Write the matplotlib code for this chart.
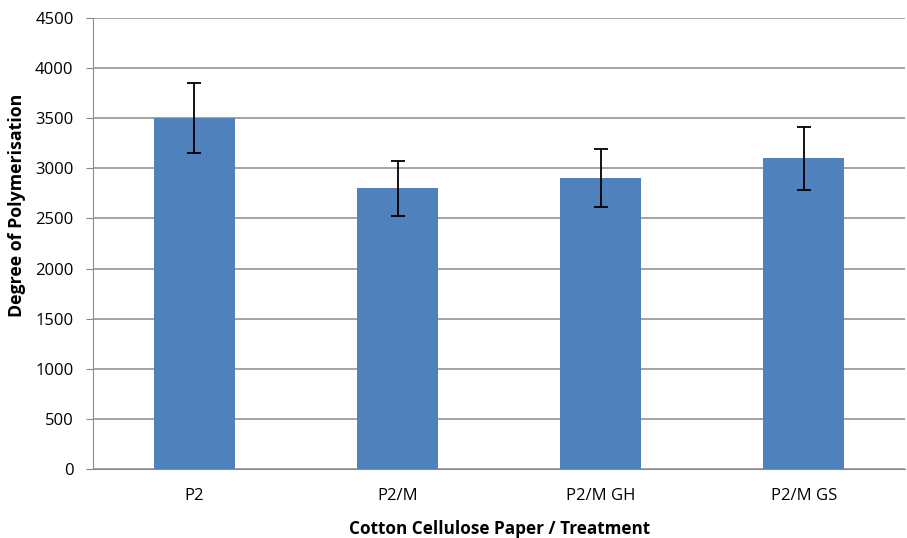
import matplotlib.pyplot as plt
import numpy as np

plt.rcParams['font.family'] = ['Open Sans', 'DejaVu Sans']

# data
categories = ['P2', 'P2/M', 'P2/M GH', 'P2/M GS']
dp_values = [3500, 2800, 2900, 3100]
dp_errors = [350, 275, 290, 315]
y_ticks = list(range(0, 4501, 500))

fig = plt.figure(figsize=(9.07, 5.38), dpi=100)
ax = fig.add_axes([0.1025, 0.1283, 0.8955, 0.8382])

x = np.arange(len(categories))
ax.bar(x, dp_values, width=0.4, color='#4F81BD', zorder=2)
ax.errorbar(x, dp_values, yerr=dp_errors, fmt='none', ecolor='black',
            elinewidth=1.3, capsize=5, capthick=1.3, zorder=3)

ax.set_xlim(-0.5, len(categories) - 0.5)
ax.set_ylim(0, 4500)
ax.set_yticks(y_ticks)
ax.set_xticks(x)
ax.set_xticklabels(categories)
ax.tick_params(axis='x', length=0, pad=14, labelsize=12)
ax.tick_params(axis='y', length=5, color='#888888', labelsize=12, pad=9)

ax.grid(axis='y', color='#8c8c8c', linewidth=1.1, zorder=0)
ax.set_axisbelow(True)
for side in ['top', 'right']:
    ax.spines[side].set_visible(False)
ax.spines['left'].set_color('#8c8c8c')
ax.spines['bottom'].set_color('#8c8c8c')

ax.set_xlabel('Cotton Cellulose Paper / Treatment', fontsize=12.3, fontweight='bold', labelpad=11)
ax.set_ylabel('Degree of Polymerisation', fontsize=12.8, fontweight='bold')
ax.yaxis.set_label_coords(-0.082, 0.585)

fig.savefig('out.png', dpi=100)
